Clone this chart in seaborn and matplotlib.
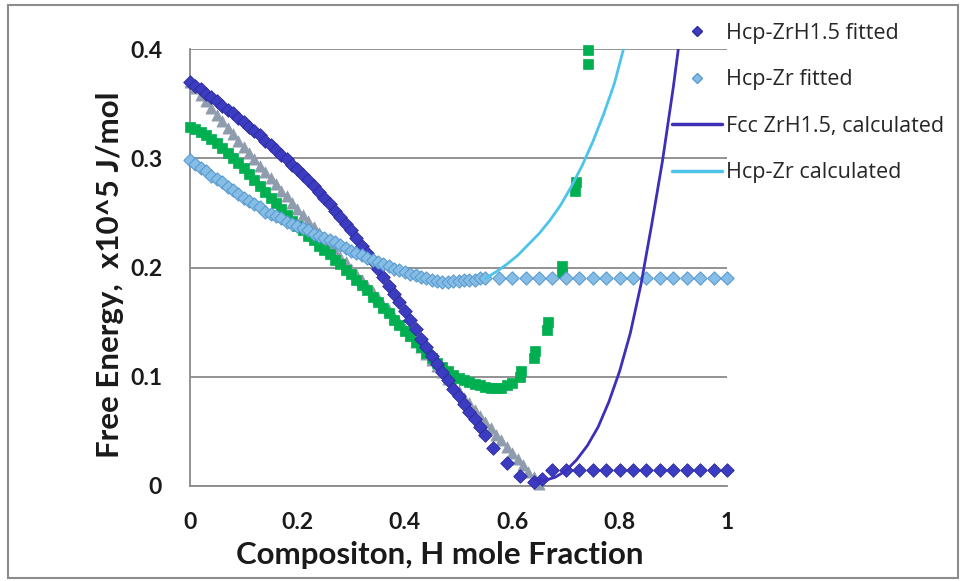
import numpy as np
import pandas as pd
import matplotlib
matplotlib.use("Agg")
import matplotlib.pyplot as plt
from matplotlib.lines import Line2D
from matplotlib.patches import Rectangle
import seaborn as sns

# ---------------- data ----------------
# Hcp-ZrH1.5 fitted (dark blue diamonds)
zrh_x = [0.00, 0.01, 0.02, 0.03, 0.04, 0.05, 0.06, 0.07, 0.08, 0.09,
         0.10, 0.11, 0.12, 0.13, 0.14, 0.15, 0.16, 0.17, 0.18, 0.19,
         0.20, 0.21, 0.22, 0.23, 0.24, 0.25, 0.26, 0.27, 0.28, 0.29,
         0.30, 0.31, 0.32, 0.33, 0.34, 0.35, 0.36, 0.37, 0.38, 0.39,
         0.40, 0.41, 0.42, 0.43, 0.44, 0.45, 0.46, 0.47, 0.48, 0.49,
         0.50, 0.51, 0.52, 0.53, 0.54, 0.55, 0.565, 0.59, 0.615, 0.64, 0.655,
         0.675, 0.70, 0.725, 0.75, 0.775, 0.80, 0.825, 0.85, 0.875, 0.90,
         0.925, 0.95, 0.975, 1.00]
zrh_y = [0.370, 0.366, 0.363, 0.359, 0.356, 0.352, 0.348, 0.344, 0.341, 0.337,
         0.333, 0.329, 0.325, 0.321, 0.316, 0.312, 0.308, 0.303, 0.299, 0.294,
         0.290, 0.285, 0.280, 0.275, 0.269, 0.264, 0.258, 0.252, 0.246, 0.240,
         0.234, 0.227, 0.220, 0.213, 0.206, 0.199, 0.191, 0.183, 0.176, 0.168,
         0.160, 0.152, 0.144, 0.135, 0.127, 0.119, 0.112, 0.104, 0.097, 0.089,
         0.082, 0.075, 0.068, 0.061, 0.054, 0.047, 0.035, 0.021, 0.009, 0.004, 0.006,
         0.015, 0.015, 0.015, 0.015, 0.015, 0.015, 0.015, 0.015, 0.015, 0.015,
         0.015, 0.015, 0.015, 0.015]

# Hcp-Zr fitted (light blue diamonds)
zr_x = [0.00, 0.01, 0.02, 0.03, 0.04, 0.05, 0.06, 0.07, 0.08, 0.09,
        0.10, 0.11, 0.12, 0.13, 0.14, 0.15, 0.16, 0.17, 0.18, 0.19,
        0.20, 0.21, 0.22, 0.23, 0.24, 0.25, 0.26, 0.27, 0.28, 0.29,
        0.30, 0.31, 0.32, 0.33, 0.34, 0.35, 0.36, 0.37, 0.38, 0.39,
        0.40, 0.41, 0.42, 0.43, 0.44, 0.45, 0.46, 0.47, 0.48, 0.49,
        0.50, 0.51, 0.52, 0.53, 0.54, 0.55,
        0.575, 0.60, 0.625, 0.65, 0.675, 0.70, 0.725, 0.75, 0.775, 0.80,
        0.825, 0.85, 0.875, 0.90, 0.925, 0.95, 0.975, 1.00]
zr_y = [0.298, 0.295, 0.291, 0.288, 0.284, 0.281, 0.278, 0.274, 0.271, 0.267,
        0.264, 0.261, 0.258, 0.255, 0.251, 0.249, 0.247, 0.245, 0.242, 0.240,
        0.238, 0.236, 0.234, 0.231, 0.229, 0.227, 0.225, 0.223, 0.221, 0.218,
        0.215, 0.213, 0.211, 0.209, 0.207, 0.205, 0.203, 0.201, 0.199, 0.198,
        0.196, 0.194, 0.193, 0.191, 0.190, 0.189, 0.188, 0.187, 0.187, 0.188,
        0.188, 0.189, 0.189, 0.189, 0.190, 0.190,
        0.190, 0.190, 0.190, 0.190, 0.190, 0.190, 0.190, 0.190, 0.190, 0.190,
        0.190, 0.190, 0.190, 0.190, 0.190, 0.190, 0.190, 0.190]

# unnamed green series (squares)
grn_x = [0.00, 0.01, 0.02, 0.03, 0.04, 0.05, 0.06, 0.07, 0.08, 0.09,
         0.10, 0.11, 0.12, 0.13, 0.14, 0.15, 0.16, 0.17, 0.18, 0.19,
         0.20, 0.21, 0.22, 0.23, 0.24, 0.25, 0.26, 0.27, 0.28, 0.29,
         0.30, 0.31, 0.32, 0.33, 0.34, 0.35, 0.36, 0.37, 0.38, 0.39,
         0.40, 0.41, 0.42, 0.43, 0.44, 0.45, 0.46, 0.47, 0.48, 0.49,
         0.50, 0.51, 0.52, 0.53, 0.54, 0.55, 0.56, 0.57, 0.58, 0.59, 0.60,
         0.615, 0.617, 0.640, 0.642, 0.664, 0.666, 0.692, 0.693,
         0.717, 0.718, 0.741, 0.742]
grn_y = [0.329, 0.327, 0.324, 0.321, 0.318, 0.314, 0.309, 0.305, 0.300, 0.296,
         0.291, 0.286, 0.280, 0.275, 0.269, 0.264, 0.259, 0.254, 0.248, 0.243,
         0.238, 0.234, 0.229, 0.225, 0.220, 0.216, 0.212, 0.207, 0.203, 0.198,
         0.194, 0.189, 0.184, 0.179, 0.173, 0.168, 0.163, 0.158, 0.152, 0.147,
         0.142, 0.137, 0.132, 0.127, 0.122, 0.117, 0.113, 0.109, 0.105, 0.102,
         0.099, 0.097, 0.095, 0.093, 0.092, 0.091, 0.090, 0.090, 0.090, 0.092, 0.094,
         0.100, 0.105, 0.117, 0.124, 0.143, 0.150, 0.195, 0.201,
         0.270, 0.278, 0.386, 0.399]

# unnamed gray series (triangles)
gry_x = [0.00, 0.01, 0.02, 0.03, 0.04, 0.05, 0.06, 0.07, 0.08, 0.09,
         0.10, 0.11, 0.12, 0.13, 0.14, 0.15, 0.16, 0.17, 0.18, 0.19,
         0.20, 0.21, 0.22, 0.23, 0.24, 0.25, 0.26, 0.27, 0.28, 0.29,
         0.30, 0.31, 0.32, 0.33, 0.34, 0.35, 0.36, 0.37, 0.38, 0.39,
         0.40, 0.41, 0.42, 0.43, 0.44, 0.45, 0.46, 0.47, 0.48, 0.49,
         0.50, 0.51, 0.52, 0.53, 0.54, 0.55, 0.56, 0.57, 0.58, 0.59,
         0.60, 0.61, 0.62, 0.63, 0.64, 0.65]
gry_y = [0.370, 0.364, 0.358, 0.352, 0.346, 0.340, 0.334, 0.328, 0.322, 0.316,
         0.310, 0.305, 0.299, 0.293, 0.287, 0.282, 0.276, 0.270, 0.265, 0.259,
         0.254, 0.248, 0.243, 0.237, 0.232, 0.226, 0.221, 0.215, 0.210, 0.205,
         0.199, 0.194, 0.189, 0.183, 0.178, 0.172, 0.166, 0.161, 0.155, 0.149,
         0.144, 0.138, 0.132, 0.127, 0.121, 0.115, 0.110, 0.104, 0.098, 0.093,
         0.087, 0.081, 0.076, 0.070, 0.064, 0.059, 0.053, 0.047, 0.042, 0.036,
         0.030, 0.025, 0.019, 0.013, 0.008, 0.002]

# Fcc ZrH1.5, calculated (indigo line)
fcc_x = [0.64, 0.66, 0.68, 0.70, 0.72, 0.74, 0.76, 0.78, 0.80, 0.82,
         0.84, 0.86, 0.88, 0.90, 0.92]
fcc_y = [0.006, 0.005, 0.008, 0.014, 0.024, 0.037, 0.054, 0.077, 0.105, 0.140,
         0.185, 0.240, 0.298, 0.365, 0.440]

# Hcp-Zr calculated (sky blue line)
hcp_x = [0.55, 0.57, 0.59, 0.61, 0.63, 0.65, 0.67, 0.69, 0.71, 0.73,
         0.75, 0.77, 0.79, 0.81]
hcp_y = [0.190, 0.196, 0.203, 0.211, 0.221, 0.231, 0.243, 0.257, 0.274, 0.293,
         0.315, 0.340, 0.368, 0.405]

legend_labels = ["Hcp-ZrH1.5 fitted", "Hcp-Zr fitted",
                 "Fcc ZrH1.5, calculated", "Hcp-Zr calculated"]
x_ticks = [0, 0.2, 0.4, 0.6, 0.8, 1.0]
x_ticklabels = ["0", "0.2", "0.4", "0.6", "0.8", "1"]
y_ticks = [0, 0.1, 0.2, 0.3, 0.4]
y_ticklabels = ["0", "0.1", "0.2", "0.3", "0.4"]

# ---------------- style ----------------
sns.set_theme(style="white")
plt.rcParams['font.family'] = ['Lato', 'DejaVu Sans']

C_DARK = "#3c3cc2"
C_DARK_E = "#2c2c9c"
C_LIGHT = "#86bde6"
C_LIGHT_E = "#5a9bd0"
C_GREEN = "#00b050"
C_GRAY = "#8f9cad"
C_FCC = "#3d2fb8"
C_HCP = "#4ec4ea"
GRID = "#8a8a8a"

fig = plt.figure(figsize=(9.63, 5.81), dpi=100)
ax = fig.add_axes([190 / 963, 1 - 486 / 581, (727 - 190) / 963, (486 - 49) / 581])

# lines
sns.lineplot(x=fcc_x, y=fcc_y, ax=ax, color=C_FCC, linewidth=2.0,
             sort=False, estimator=None, zorder=6)
sns.lineplot(x=hcp_x, y=hcp_y, ax=ax, color=C_HCP, linewidth=2.0,
             sort=False, estimator=None, zorder=6)

# markers
sns.scatterplot(x=gry_x, y=gry_y, ax=ax, marker="^", s=65, color=C_GRAY,
                edgecolor=C_GRAY, linewidth=0.5, zorder=3, clip_on=False)
sns.scatterplot(x=grn_x, y=grn_y, ax=ax, marker="s", s=50, color=C_GREEN,
                edgecolor=C_GREEN, linewidth=0.5, zorder=4, clip_on=False)
sns.scatterplot(x=zrh_x, y=zrh_y, ax=ax, marker="D", s=48, color=C_DARK,
                edgecolor=C_DARK_E, linewidth=0.6, zorder=5, clip_on=False)
sns.scatterplot(x=zr_x, y=zr_y, ax=ax, marker="D", s=45, color=C_LIGHT,
                edgecolor=C_LIGHT_E, linewidth=0.8, zorder=5, clip_on=False)

ax.set_xlim(0, 1)
ax.set_ylim(0, 0.4)
ax.set_xticks(x_ticks)
ax.set_xticklabels(x_ticklabels)
ax.set_yticks(y_ticks)
ax.set_yticklabels(y_ticklabels)
for t in ax.get_xticklabels() + ax.get_yticklabels():
    t.set_fontweight("bold")
    t.set_fontsize(16.5)
    t.set_color("#1a1a1a")

ax.yaxis.grid(True, color=GRID, linewidth=1.3)
ax.xaxis.grid(False)
ax.set_axisbelow(True)
for s in ["top", "right"]:
    ax.spines[s].set_visible(False)
for s in ["left", "bottom"]:
    ax.spines[s].set_color(GRID)
    ax.spines[s].set_linewidth(1.3)
ax.tick_params(axis="both", direction="inout", length=8, width=1.3,
               color=GRID)
ax.tick_params(axis="y", pad=16)
ax.tick_params(axis="x", pad=15)

ax.set_xlabel("Compositon, H mole Fraction", fontsize=22.5, fontweight="bold",
              color="#1a1a1a")
ax.set_ylabel("Free Energy,  x10^5 J/mol", fontsize=22.5, fontweight="bold",
              color="#1a1a1a")
ax.xaxis.set_label_coords(0.466, -0.125)
ax.yaxis.set_label_coords(-0.122, 0.483)

handles = [
    Line2D([], [], linestyle="none", marker="D", markersize=5.5,
           markerfacecolor=C_DARK, markeredgecolor=C_DARK_E),
    Line2D([], [], linestyle="none", marker="D", markersize=5.5,
           markerfacecolor=C_LIGHT, markeredgecolor=C_LIGHT_E),
    Line2D([], [], color=C_FCC, linewidth=2.5),
    Line2D([], [], color=C_HCP, linewidth=2.5),
]
fig.legend(handles, legend_labels, loc="upper left",
           bbox_to_anchor=(672 / 963, 1 - 23 / 581), frameon=False,
           prop={"family": ["Open Sans", "DejaVu Sans"], "size": 15.5},
           handlelength=2.3, handletextpad=0.2,
           labelspacing=1.18, borderpad=0, borderaxespad=0)

fig.patches.append(Rectangle((8 / 963, 3 / 581), 950 / 963, 573 / 581,
                             transform=fig.transFigure, fill=False,
                             edgecolor="#8c8c8c", linewidth=1.5))

fig.savefig("out.png", dpi=100)
